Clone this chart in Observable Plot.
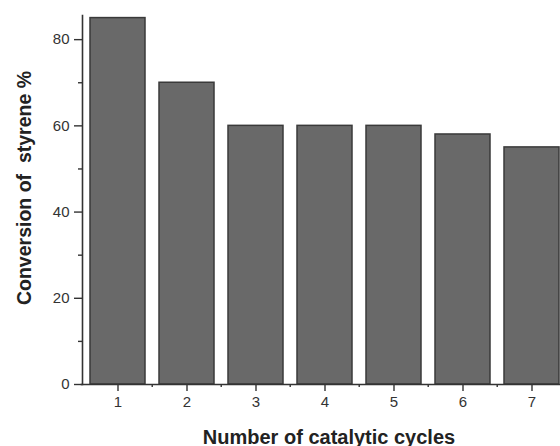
<!DOCTYPE html>
<html>
<head>
<meta charset="utf-8">
<script src="https://cdn.jsdelivr.net/npm/d3@7"></script>
<script src="https://cdn.jsdelivr.net/npm/@observablehq/plot@0.6"></script>
<style>
  html, body { margin: 0; padding: 0; background: #fff; }
  #chart svg { display: block; }
</style>
</head>
<body>
<div id="chart"></div>
<script>
const cycles = [1, 2, 3, 4, 5, 6, 7];
const conversion = [85, 70, 60, 60, 60, 58, 55];
const yTicks = [0, 20, 40, 60, 80];
const yMinorTicks = [10, 30, 50, 70];
const xTitle = "Number of catalytic cycles";
const yTitle = "Conversion of  styrene %";

const data = cycles.map((c, i) => ({cycle: c, value: conversion[i]}));

const W = 560, H = 446;
const mL = 81, mR = -8, mT = 15, mB = 62;
const step = (W - mR - mL) / cycles.length;
const ink = "#333";

const chart = Plot.plot({
  width: W,
  height: H,
  marginLeft: mL,
  marginRight: mR,
  marginTop: mT,
  marginBottom: mB,
  style: {fontFamily: "Liberation Sans, Arial, sans-serif", fontSize: "15px", color: ink, background: "#fff"},
  x: {domain: cycles, paddingInner: 0.2, paddingOuter: 0.1, axis: null},
  y: {domain: [0, 85.6], axis: null},
  marks: [
    Plot.barY(data, {x: "cycle", y: "value", fill: "#696969", stroke: "#3a3a3a", strokeWidth: 1.5}),
    Plot.axisY({ticks: yTicks, tickSize: 8, tickPadding: 5, fontSize: 15, stroke: ink, strokeWidth: 1.4, dx: 1, label: null}),
    Plot.axisY({ticks: yMinorTicks, tickSize: 4, text: null, stroke: ink, strokeWidth: 1.4, dx: 1, label: null}),
    Plot.axisX({ticks: cycles, tickSize: 7, tickPadding: 5, fontSize: 15, stroke: ink, strokeWidth: 1.4, label: null}),
    Plot.axisX({ticks: cycles.slice(1), tickSize: 3, text: null, dx: -step / 2, stroke: ink, strokeWidth: 1.4, label: null}),
    Plot.frame({anchor: "left", stroke: ink, strokeWidth: 1.6, dx: 1}),
    Plot.frame({anchor: "bottom", stroke: ink, strokeWidth: 1.6}),
    Plot.text([xTitle], {text: d => d, frameAnchor: "bottom", dy: 59, dx: 4, lineAnchor: "bottom", fontSize: 20, fontWeight: "bold", fill: "#222"}),
    Plot.text([yTitle], {text: d => d, frameAnchor: "left", textAnchor: "middle", rotate: -90, dx: -57, dy: -12, fontSize: 19.5, fontWeight: "bold", fill: "#222"})
  ]
});
document.getElementById("chart").appendChild(chart);
</script>
</body>
</html>
